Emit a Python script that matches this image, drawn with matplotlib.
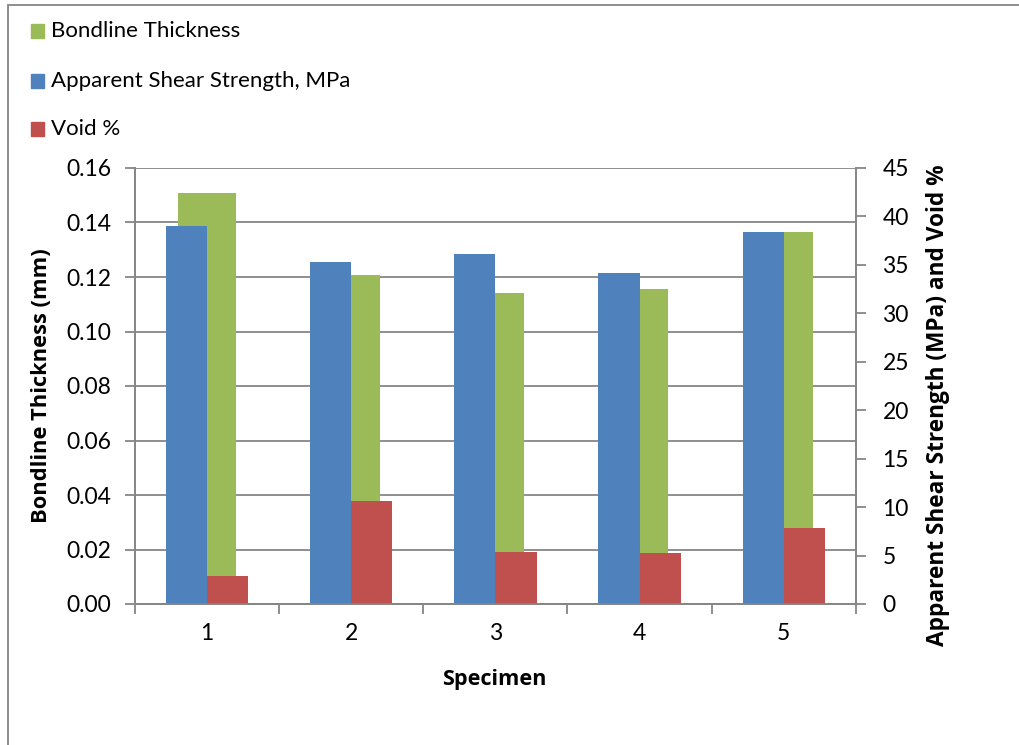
import matplotlib.pyplot as plt
from matplotlib.patches import Rectangle
import numpy as np

plt.rcParams['font.family'] = ['Lato', 'DejaVu Sans']

specimens = ['1', '2', '3', '4', '5']
bondline = [0.1507, 0.1208, 0.1140, 0.1155, 0.1366]   # mm, left axis
shear = [39.0, 35.3, 36.15, 34.2, 38.4]              # MPa, right axis
void = [2.9, 10.6, 5.4, 5.25, 7.8]                   # %, right axis

green = '#9BBB59'
blue = '#4F81BD'
red = '#C0504D'
grey = '#868686'

W, H = 1019, 745
fig = plt.figure(figsize=(W / 100, H / 100), dpi=100)

def px(x, y):
    return x / W, 1 - y / H

def fit_text(t, length, vertical=False):
    # scale the font so the drawn text spans `length` pixels
    r = fig.canvas.get_renderer()
    bb = t.get_window_extent(r)
    cur = bb.height if vertical else bb.width
    t.set_fontsize(t.get_fontsize() * length / cur)

# chart frame
fig.patches.append(Rectangle(px(8, 760), (W + 20) / W, 755 / H, transform=fig.transFigure,
                             fill=False, edgecolor=grey, linewidth=1.3))

left, top, right, bottom = 134.7, 168, 856, 604
ax = fig.add_axes([left / W, 1 - bottom / H, (right - left) / W, (bottom - top) / H])
x = np.arange(len(specimens))

ax.bar(x, bondline, width=0.398, color=green, zorder=2)
ax.set_ylim(0, 0.16)
ax.set_yticks(np.arange(0, 0.161, 0.02))
ax.set_yticklabels(['%.2f' % v for v in np.arange(0, 0.161, 0.02)])
ax.set_xlim(-0.5, len(specimens) - 0.5)
ax.set_xticks(np.arange(-0.5, len(specimens), 1.0))
ax.set_xticklabels([])
ax.set_xticks(x, minor=True)
ax.set_xticklabels(specimens, minor=True)
ax.tick_params(axis='x', which='minor', length=0, pad=14, labelsize=16.5)
ax.tick_params(axis='x', which='major', length=7, width=1.3, color=grey, direction='out')
ax.tick_params(axis='y', length=7, width=1.3, color=grey, labelsize=16.5, pad=10)
ax.yaxis.grid(True, color=grey, linewidth=1.3)
ax.set_axisbelow(True)
ax.spines['top'].set_visible(False)
for s in ['left', 'bottom', 'right']:
    ax.spines[s].set_color(grey)
    ax.spines[s].set_linewidth(1.3)

ax2 = ax.twinx()
ax2.bar(x - 0.286, shear, width=0.286, align='edge', color=blue)
ax2.bar(x, void, width=0.286, align='edge', color=red)
ax2.set_ylim(0, 45)
ax2.set_yticks(np.arange(0, 46, 5))
ax2.tick_params(axis='y', length=7, width=1.3, color=grey, labelsize=16.5, pad=12)
ax2.spines['top'].set_visible(False)
for s in ['left', 'bottom', 'right']:
    ax2.spines[s].set_color(grey)
    ax2.spines[s].set_linewidth(1.3)

# axis titles
bold = dict(family=['Open Sans', 'DejaVu Sans'], fontweight='bold', fontsize=14,
            ha='center', va='center')
t = fig.text(*px(494, 680), 'Specimen', **bold)
fit_text(t, 105)
t = fig.text(*px(42, 386), 'Bondline Thickness (mm)', rotation=90, **bold)
fit_text(t, 275, vertical=True)
t = fig.text(*px(938, 405), 'Apparent Shear Strength (MPa) and Void %', rotation=90, **bold)
fit_text(t, 484, vertical=True)

# legend
entries = [('Bondline Thickness', green, 31),
           ('Apparent Shear Strength, MPa', blue, 81),
           ('Void %', red, 129)]
for label, color, yc in entries:
    fig.patches.append(Rectangle(px(31, yc + 6.5), 13 / W, 13 / H,
                                 transform=fig.transFigure, color=color))
    fig.text(*px(51, yc), label, fontsize=16, va='center', ha='left')

fig.savefig('out.png', dpi=100)
